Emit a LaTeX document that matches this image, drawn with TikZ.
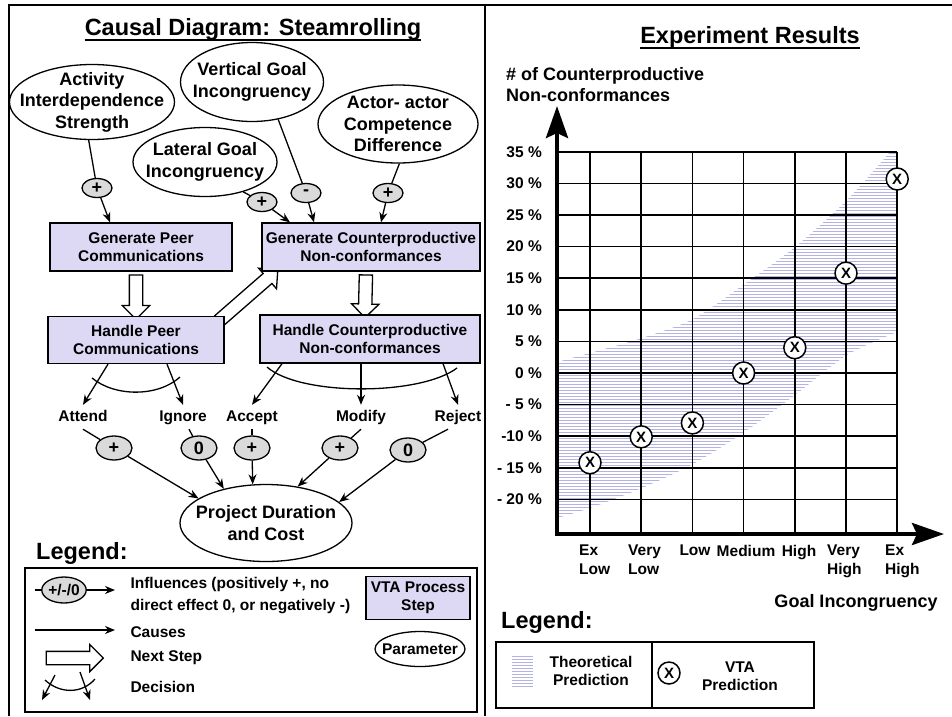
\documentclass[tikz,border=0pt]{standalone}
\usepackage{fontspec}
\setmainfont{Liberation Sans}
\usetikzlibrary{arrows.meta,shapes.geometric,shapes.arrows,calc,backgrounds}

\definecolor{steplilac}{RGB}{221,217,245}
\definecolor{inflgrey}{RGB}{218,218,218}
\definecolor{hatchblue}{RGB}{178,178,228}

\newcommand{\headfont}{\fontsize{23.5}{28}\selectfont\bfseries}
\newcommand{\parfont}{\fontsize{18}{21.5}\selectfont\bfseries}
\newcommand{\stepfont}{\fontsize{15.5}{18.5}\selectfont\bfseries}

\tikzset{
  link/.style={line width=1.3pt},
  cause/.style={line width=1.3pt,-{Stealth[length=10pt,width=8pt]}},
  param/.style={ellipse,draw,line width=1.3pt,inner sep=0pt,
    label={[align=center,font=\parfont]center:#1}},
  infl/.style={ellipse,draw,line width=1.3pt,fill=inflgrey,inner sep=0pt,
    minimum width=30pt,minimum height=19pt,font=\parfont},
  vtastep/.style={rectangle,draw,line width=1.3pt,fill=steplilac,inner sep=0pt,
    align=center},
  choice/.style={anchor=base,inner xsep=1pt,inner ysep=5pt,text height=11pt,text depth=3pt},
  nextstep/.style={single arrow,draw,line width=1.3pt,fill=white,inner xsep=0pt,
    inner ysep=6pt,single arrow head extend=7pt,single arrow tip angle=90},
  vta/.style={circle,draw,line width=1.5pt,fill=white,inner sep=0pt,minimum size=22pt,
    font=\fontsize{15}{15}\selectfont\bfseries},
  gridline/.style={line width=1.6pt},
  hatch/.style={hatchblue,line width=0.7pt},
  axis/.style={line width=4pt,-{Stealth[length=32pt,width=22pt,inset=5pt]}},
}

% hollow "next step" arrow between two points
\newcommand{\nextstep}[2]{%
  \path let \p1=#1, \p2=#2, \n1={atan2(\y2-\y1,\x2-\x1)},
    \n2={veclen(\x2-\x1,\y2-\y1)} in
    node[nextstep,minimum height=\n2,rotate=\n1] at ($(\p1)!.5!(\p2)$) {};}

\begin{document}
\begin{tikzpicture}[x=1pt,y=-1pt,font=\stepfont]
\useasboundingbox (0,0) rectangle (952,716);

% frames
\draw[line width=2.8pt] (9,716) -- (9,5) -- (952,5);
\draw[line width=2pt] (485,5) -- (485,716);

%%% causal diagram
\node[font=\headfont,anchor=base,inner sep=0pt] (ttl) at (253,35) {Causal Diagram: Steamrolling};
\draw[line width=2pt] (ttl.south west) -- (ttl.south east);

\node[param={Activity\\Interdependence\\Strength},minimum width=165pt,minimum height=75pt] (act) at (92,102) {};
\node[param={Vertical Goal\\Incongruency},minimum width=143pt,minimum height=79pt] (vgi) at (252,82) {};
\node[param={Actor- actor\\Competence\\Difference},minimum width=160pt,minimum height=78pt] (acd) at (398,124) {};
\node[param={Lateral Goal\\Incongruency},minimum width=144pt,minimum height=69pt] (lgi) at (205,162) {};

\node[infl] (pa) at (97,188) {+};
\node[infl] (pl) at (262,202) {+};
\node[infl] (pv) at (306,193) {-};
\node[infl] (pc) at (388,193) {+};

\node[vtastep,minimum width=182pt,minimum height=48pt] (gpc) at (141,247) {Generate Peer\\Communications};
\node[vtastep,minimum width=218pt,minimum height=48pt] (gcn) at (371,247) {Generate Counterproductive\\Non-conformances};
\node[vtastep,minimum width=176pt,minimum height=47pt] (hpc) at (136,340) {Handle Peer\\Communications};
\node[vtastep,minimum width=220pt,minimum height=48pt] (hcn) at (370,339) {Handle Counterproductive\\Non-conformances};

\draw[link] (act.-95) -- (pa);
\draw[cause] (pa) -- ([xshift=-31pt]gpc.north);
\draw[link] (lgi.-38) -- (pl);
\draw[cause] (pl) -- ([xshift=-81pt]gcn.north);
\draw[link] (vgi.-55) -- (pv);
\draw[cause] (pv) -- ([xshift=-57pt]gcn.north);
\draw[link] (acd.-88) -- (pc);
\draw[cause] (pc) -- ([xshift=10pt]gcn.north);

\begin{scope}[on background layer]
  \nextstep{(gpc.south -| hpc.north)}{(hpc.north)}
  \nextstep{([xshift=-5pt]gcn.south)}{([xshift=-5pt]hcn.north)}
  \nextstep{([xshift=-8pt,yshift=-7pt]hpc.north east)}{([xshift=14pt]gcn.south west)}
\end{scope}

% decisions
\node[choice] (att) at (83,421) {Attend};
\node[choice] (ign) at (183,421) {Ignore};
\node[choice] (acc) at (252,421) {Accept};
\node[choice] (mod) at (361,421) {Modify};
\node[choice] (rej) at (458,421) {Reject};

\draw[cause] ([xshift=-28pt]hpc.south) -- (att.north);
\draw[cause] ([xshift=31pt]hpc.south) -- (ign.north);
\draw[link] (92,378) .. controls (115,397) and (158,397) .. (180,377);
\draw[cause] ([xshift=-88pt]hcn.south) -- (acc.north);
\draw[cause] ([xshift=-9pt]hcn.south) -- (mod.north);
\draw[cause] ([xshift=73pt]hcn.south) -- (rej.north);
\draw[link] (267,367) .. controls (300,396) and (420,396) .. (457,368);

\node[infl,minimum width=36pt,minimum height=24pt] (qa) at (114,448) {+};
\node[infl,minimum width=36pt,minimum height=24pt] (qi) at (199,448) {0};
\node[infl,minimum width=36pt,minimum height=24pt] (qc) at (252,448) {+};
\node[infl,minimum width=36pt,minimum height=24pt] (qm) at (340,448) {+};
\node[infl,minimum width=36pt,minimum height=24pt] (qr) at (408,450) {0};

\draw[link] (att.south) -- (qa);
\draw[link] ([xshift=6pt]ign.south) -- (qi);
\draw[link] (acc.south) -- (qc);
\draw[link] (mod.south) -- (qm);
\draw[link] ([xshift=-10pt]rej.south) -- (qr);

\node[param={Project Duration\\and Cost},minimum width=172pt,minimum height=77pt] (pdc) at (266,523) {};
\draw[cause] (qa) -- (pdc.160);
\draw[cause] (qi) -- (pdc.141);
\draw[cause] (qc) -- (pdc.109);
\draw[cause] (qm) -- (pdc.49);
\draw[cause] (qr) -- (pdc.16);

% legend, left
\node[font=\headfont,anchor=west,inner sep=0pt] (lgl) at (36,553) {Legend:};
\draw[line width=1.3pt] (25,568) rectangle (477,712);
\coordinate (ia) at (35,590);
\coordinate (ib) at (115,590);
\node[infl,minimum width=42pt,minimum height=26pt,font=\stepfont] (il) at (64,590) {+/-/0};
\draw[link] (ia) -- (il);
\draw[cause] (il) -- (ib);
\node[font=\fontsize{15.5}{22}\selectfont\bfseries,align=left,anchor=west] at (127,596)
  {Influences (positively +, no\\direct effect 0, or negatively -)};
\node[vtastep,minimum width=104pt,minimum height=43pt] (lstep) at (418,598) {VTA Process\\Step};
\coordinate (ca) at (35,630);
\coordinate (cb) at (115,630);
\draw[cause] (ca) -- (cb);
\node[anchor=west] at (127,632) {Causes};
\node[ellipse,draw,line width=1.3pt,minimum width=90pt,minimum height=35pt,
  label={[font=\stepfont]center:Parameter}] (lpar) at (420,649) {};
\coordinate (na) at (43,658);
\coordinate (nb) at (100,658);
\nextstep{(na)}{(nb)}
\node[anchor=west] at (127,658) {Next Step};
\coordinate (da) at (55,675);
\coordinate (db) at (42,700);
\coordinate (dc) at (80,672);
\coordinate (dd) at (90,700);
\draw[cause] (da) -- (db);
\draw[cause] (dc) -- (dd);
\draw[link] (45,680) .. controls (60,694) and (82,694) .. (95,679);
\node[anchor=west] at (127,687) {Decision};

%%% experiment results
\node[font=\headfont,anchor=base,inner sep=0pt] (ttr) at (750,43) {Experiment Results};
\draw[line width=2pt] (ttr.south west) -- (ttr.south east);
\node[font=\fontsize{18}{21}\selectfont\bfseries,align=left,anchor=west,inner sep=0pt] (ylab)
  at (506,85) {\# of Counterproductive\\Non-conformances};

% theoretical band
\begin{scope}
  \clip plot[smooth] coordinates {(557,362) (590,353) (642,338) (693,319) (743,285) (795,247) (847,200) (890,152)}
    -- (897.2,152) -- (897.2,332)
    -- plot[smooth] coordinates {(897.2,332) (847,355) (795,395) (743,433) (693,464) (642,488) (590,508) (557,518)}
    -- cycle;
  \foreach \y in {150,153,...,522} \draw[hatch] (557,\y) -- (898,\y);
\end{scope}

% grid
\foreach \p in {35,30,...,-20} \draw[gridline] (557,{373-6.32*\p}) -- (897.2,{373-6.32*\p});
\foreach \k in {0,...,6} \draw[gridline] ({590+51.2*\k},151.8) -- ({590+51.2*\k},534);

\coordinate (orig) at (557,534);
\coordinate (ytip) at (557,106);
\coordinate (xtip) at (944,534);
\draw[axis] ([yshift=-2pt]orig) -- (ytip);
\draw[axis] ([xshift=-2pt]orig) -- (xtip);

\foreach \p/\t in {35/35 \%,30/30 \%,25/25 \%,20/20 \%,15/15 \%,10/10 \%,5/5 \%,0/0 \%,-5/- 5 \%,-10/-10 \%,-15/- 15 \%,-20/- 20 \%}
  \node[anchor=east,inner sep=0pt] at (542,{373-6.32*\p}) {\t};

\foreach \k/\p in {0/-14.2,1/-10.1,2/-7.9,3/0,4/4,5/15.8,6/30.7}
  \node[vta] (m\k) at ({590+51.2*\k},{373-6.32*\p}) {X};

\node[align=left,anchor=north west,inner sep=0pt] at (579,545) {Ex\\Low};
\node[align=left,anchor=north west,inner sep=0pt] at (628,545) {Very\\Low};
\node[anchor=north,inner sep=0pt] at (695,545) {Low};
\node[anchor=north,inner sep=0pt] at (746,545) {Medium};
\node[anchor=north,inner sep=0pt] at (799,545) {High};
\node[align=left,anchor=north west,inner sep=0pt] at (827,545) {Very\\High};
\node[align=left,anchor=north west,inner sep=0pt] at (885,545) {Ex\\High};
\node[font=\parfont] (xlab) at (856,603) {Goal Incongruency};

% legend, right
\node[font=\headfont,anchor=west,inner sep=0pt] (lgr) at (501,622) {Legend:};
\draw[line width=1.3pt] (496,642) rectangle (814,708);
\draw[line width=1.3pt] (652,642) -- (652,708);
\foreach \y in {656,659,...,686} \draw[hatch] (512,\y) -- (533,\y);
\node[align=center] at (591,671) {Theoretical\\Prediction};
\node[vta] (lvta) at (669,673) {X};
\node[align=center] at (740,676) {VTA\\Prediction};
\end{tikzpicture}
\end{document}
